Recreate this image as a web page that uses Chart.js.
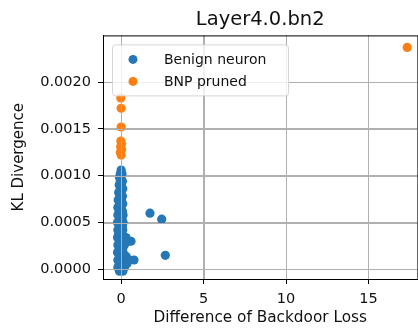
<!DOCTYPE html>
<html>
<head>
<meta charset="utf-8">
<title>Layer4.0.bn2</title>
<script src="https://cdn.jsdelivr.net/npm/chart.js@4.4.1/dist/chart.umd.min.js"></script>
<style>
  html, body { margin: 0; padding: 0; background: #fff; overflow: hidden; }
  #wrap { width: 422px; height: 329px; }
</style>
</head>
<body>
<div id="wrap"><canvas id="scatter"></canvas></div>
<script>
// benign neurons: difference of backdoor loss vs KL divergence
const benignX = [
  0.0,
  -0.05, 0.05,
  -0.1, 0.0,
  -0.05, 0.08,
  -0.12, 0.02,
  -0.05, 0.1,
  -0.15, 0.0,
  -0.08, 0.08,
  -0.18, 0.02,
  -0.1, 0.1,
  -0.2, 0.0,
  -0.12, 0.08,
  -0.2, -0.02, 0.12,
  -0.1, 0.05,
  -0.22, 0.0, 0.12,
  -0.12, 0.08,
  -0.2, 0.0, 0.1,
  -0.15, 0.05,
  -0.22, 0.0, 0.15, 0.3,
  -0.1, 0.1, 0.45, 0.6,
  -0.2, 0.0, 0.2,
  -0.12, 0.08,
  -0.22, 0.0, 0.12,
  -0.1, 0.1, 0.3,
  -0.2, 0.0, 0.2, 0.5, 0.78,
  -0.12, 0.1, 0.35,
  -0.2, 0.0, 0.2,
  -0.1, 0.1,
  1.75, 2.46, 2.68
];
const benignY = [
  0.00106,
  0.00102, 0.00102,
  0.00098, 0.00098,
  0.00094, 0.00094,
  0.00090, 0.00090,
  0.00086, 0.00086,
  0.00082, 0.00082,
  0.00078, 0.00078,
  0.00074, 0.00074,
  0.00070, 0.00070,
  0.00066, 0.00066,
  0.00062, 0.00062,
  0.00058, 0.00058, 0.00058,
  0.00054, 0.00054,
  0.00050, 0.00050, 0.00050,
  0.00046, 0.00046,
  0.00042, 0.00042, 0.00042,
  0.00038, 0.00038,
  0.00034, 0.00034, 0.00034, 0.00034,
  0.00030, 0.00030, 0.00030, 0.00030,
  0.00026, 0.00026, 0.00026,
  0.00022, 0.00022,
  0.00018, 0.00018, 0.00018,
  0.00014, 0.00014, 0.00014,
  0.00010, 0.00010, 0.00010, 0.00010, 0.00010,
  0.00006, 0.00006, 0.00006,
  0.00002, 0.00002, 0.00002,
  -0.00002, -0.00002,
  0.00060, 0.000536, 0.00015
];

// neurons pruned by BNP
const prunedX = [0.0, -0.05, 0.03, -0.03, 0.02, -0.02, 0.0, 0.0, -0.02, 17.35];
const prunedY = [0.00122, 0.00125, 0.00128, 0.00131, 0.00134, 0.00137, 0.00152, 0.00172, 0.00183, 0.00237];

const xTicks = [0, 5, 10, 15];
const yTicks = [0, 0.0005, 0.0010, 0.0015, 0.0020];

const toPoints = (xs, ys) => xs.map((x, i) => ({ x: x, y: ys[i] }));

const FONT = 'DejaVu Sans';
const GRID = '#b0b0b0';

// grid lines over the markers, spines, and a legend box inside the axes
const axesDecor = {
  id: 'axesDecor',
  afterDatasetsDraw(chart) {
    const ctx = chart.ctx;
    const a = chart.chartArea;
    const sx = chart.scales.x, sy = chart.scales.y;
    ctx.save();
    ctx.strokeStyle = GRID;
    ctx.lineWidth = 1;
    ctx.beginPath();
    xTicks.forEach(v => {
      const px = Math.round(sx.getPixelForValue(v)) + 0.5;
      ctx.moveTo(px, a.top);
      ctx.lineTo(px, a.bottom);
    });
    yTicks.forEach(v => {
      const py = Math.round(sy.getPixelForValue(v)) + 0.5;
      ctx.moveTo(a.left, py);
      ctx.lineTo(a.right, py);
    });
    ctx.stroke();
    ctx.restore();
  },
  afterDraw(chart) {
    const ctx = chart.ctx;
    const a = chart.chartArea;
    ctx.save();
    ctx.strokeStyle = '#000';
    ctx.lineWidth = 1;
    ctx.strokeRect(a.left + 0.5, a.top + 0.5, a.right - a.left, a.bottom - a.top);

    const bx = a.left + 9, by = a.top + 9, bw = 176, bh = 51;
    ctx.beginPath();
    ctx.roundRect(bx + 0.5, by + 0.5, bw, bh, 3);
    ctx.fillStyle = 'rgba(255,255,255,0.8)';
    ctx.fill();
    ctx.strokeStyle = 'rgba(204,204,204,0.8)';
    ctx.stroke();

    ctx.font = '14px "' + FONT + '"';
    ctx.textBaseline = 'middle';
    chart.data.datasets.forEach((ds, i) => {
      const cy = by + 15 + i * 22;
      ctx.beginPath();
      ctx.arc(bx + 21, cy, 4.5, 0, Math.PI * 2);
      ctx.fillStyle = ds.backgroundColor;
      ctx.fill();
      ctx.fillStyle = '#111';
      ctx.fillText(ds.label, bx + 52, cy + 1);
    });
    ctx.restore();
  }
};

new Chart(document.getElementById('scatter'), {
  type: 'scatter',
  data: {
    datasets: [
      {
        label: 'Benign neuron',
        data: toPoints(benignX, benignY),
        backgroundColor: '#2677b5',
        borderWidth: 0,
        pointRadius: 4.6,
        order: 2
      },
      {
        label: 'BNP pruned',
        data: toPoints(prunedX, prunedY),
        backgroundColor: '#fb7f12',
        borderWidth: 0,
        pointRadius: 4.6,
        order: 1
      }
    ]
  },
  options: {
    responsive: true,
    maintainAspectRatio: false,
    animation: false,
    layout: { padding: 0 },
    plugins: {
      legend: { display: false },
      tooltip: { enabled: false },
      title: {
        display: true,
        text: 'Layer4.0.bn2',
        fullSize: false,
        color: '#111',
        font: { family: FONT, size: 19.5, weight: 'normal' },
        padding: { top: 8, bottom: 4 }
      }
    },
    scales: {
      x: {
        type: 'linear',
        min: -1.1,
        max: 17.97,
        afterBuildTicks: s => { s.ticks = xTicks.map(v => ({ value: v })); },
        afterFit: s => { s.height = 50; },
        ticks: {
          color: '#111',
          padding: 7,
          font: { family: FONT, size: 14.5 },
          callback: v => String(v)
        },
        grid: { color: GRID, lineWidth: 1, tickLength: 5, tickColor: '#000' },
        border: { color: '#000', width: 1 },
        title: {
          display: true,
          text: 'Difference of Backdoor Loss',
          color: '#111',
          font: { family: FONT, size: 15.3 },
          padding: { top: 0, bottom: 2 }
        }
      },
      y: {
        type: 'linear',
        min: -0.000103,
        max: 0.002498,
        afterBuildTicks: s => { s.ticks = yTicks.map(v => ({ value: v })); },
        afterFit: s => { s.width = 103; },
        ticks: {
          color: '#111',
          padding: 7,
          font: { family: FONT, size: 14.5 },
          callback: v => Number(v).toFixed(4)
        },
        grid: { color: GRID, lineWidth: 1, tickLength: 5, tickColor: '#000' },
        border: { color: '#000', width: 1 },
        title: {
          display: true,
          text: 'KL Divergence',
          color: '#111',
          font: { family: FONT, size: 15 },
          padding: { top: 10, bottom: 0 }
        }
      }
    }
  },
  plugins: [axesDecor]
});
</script>
</body>
</html>
